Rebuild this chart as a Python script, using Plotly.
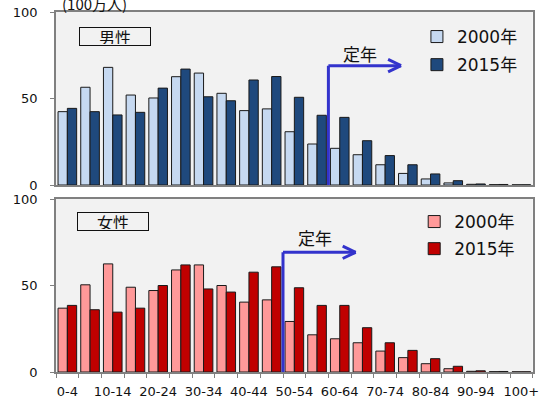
import plotly.graph_objects as go

categories = ["0-4", "5-9", "10-14", "15-19", "20-24", "25-29", "30-34", "35-39",
              "40-44", "45-49", "50-54", "55-59", "60-64", "65-69", "70-74", "75-79",
              "80-84", "85-89", "90-94", "95-99", "100+"]
male_2000 = [42.4, 56.5, 68.0, 52.0, 50.3, 62.6, 64.7, 53.0, 43.0, 44.0, 30.8,
             23.7, 21.2, 17.5, 11.7, 6.7, 3.5, 1.2, 0.4, 0.2, 0.1]
male_2015 = [44.3, 42.4, 40.5, 42.0, 56.0, 67.0, 51.0, 48.7, 60.7, 62.7, 50.7,
             40.3, 39.1, 25.6, 17.0, 11.7, 6.4, 2.5, 0.6, 0.3, 0.1]
female_2000 = [36.9, 50.4, 62.5, 49.0, 47.1, 59.0, 61.9, 50.0, 40.4, 41.7, 29.2,
               21.5, 19.2, 16.9, 12.1, 8.3, 4.8, 1.9, 0.4, 0.2, 0.1]
female_2015 = [38.5, 36.0, 34.6, 36.9, 50.0, 61.9, 48.0, 46.2, 57.7, 60.8, 48.7,
               38.5, 38.5, 25.6, 16.9, 12.5, 7.7, 3.3, 0.7, 0.3, 0.1]
tick_text = [c if i % 2 == 0 else "" for i, c in enumerate(categories)]
series_names = ["2000年", "2015年"]

FONT = "DejaVu Sans, Noto Sans CJK JP"
CJK = "Noto Sans CJK JP, DejaVu Sans"
W, H = 545, 403

fig = go.Figure()
line = dict(color="#1a1a1a", width=1)
fig.add_trace(go.Bar(x=categories, y=male_2000, name=series_names[0], marker=dict(color="#c6d9f1", line=line),
                     xaxis="x", yaxis="y", legend="legend", legendgroup="a"))
fig.add_trace(go.Bar(x=categories, y=male_2015, name=series_names[1], marker=dict(color="#1f497d", line=line),
                     xaxis="x", yaxis="y", legend="legend", legendgroup="b"))
fig.add_trace(go.Bar(x=categories, y=female_2000, name=series_names[0], marker=dict(color="#ff9999", line=line),
                     xaxis="x2", yaxis="y2", legend="legend2", legendgroup="c"))
fig.add_trace(go.Bar(x=categories, y=female_2015, name=series_names[1], marker=dict(color="#c00000", line=line),
                     xaxis="x2", yaxis="y2", legend="legend2", legendgroup="d"))

xd = [56 / W, 532.7 / W]
axcol = "#808080"
common_x = dict(domain=xd, type="category", showline=True, linecolor=axcol, linewidth=1.5,
                mirror=True, showgrid=False, categoryorder="array", categoryarray=categories,
                automargin=False, tickangle=0)
common_y = dict(range=[0, 100], tickvals=[0, 50, 100], showline=True, linecolor=axcol, linewidth=1.5,
                mirror=True, showgrid=False, ticks="outside", ticklen=4, tickcolor=axcol,
                zeroline=False, tickfont=dict(family=FONT, size=13, color="#111"),
                ticklabelstandoff=10, automargin=False)

fig.update_layout(
    width=W, height=H, margin=dict(l=0, r=0, t=0, b=0),
    paper_bgcolor="white", plot_bgcolor="#f2f2f2",
    barmode="group", bargap=0.18, bargroupgap=0,
    font=dict(family=FONT, size=13, color="#111"),
    xaxis=dict(common_x, anchor="y", showticklabels=False, ticks=""),
    yaxis=dict(common_y, domain=[1 - 185 / H, 1 - 12 / H], anchor="x"),
    xaxis2=dict(common_x, anchor="y2", tickvals=categories, ticktext=tick_text,
                ticks="outside", tickson="boundaries", ticklen=4, tickcolor=axcol,
                ticklabelstandoff=7,
                tickfont=dict(family=FONT, size=13, color="#111")),
    yaxis2=dict(common_y, domain=[1 - 372 / H, 1 - 199 / H], anchor="x2"),
    legend=dict(x=0.765, y=1 - 19 / H, xanchor="left", yanchor="top", bgcolor="rgba(0,0,0,0)",
                font=dict(family=FONT, size=17, color="#111"), tracegroupgap=3),
    legend2=dict(x=0.76, y=1 - 204 / H, xanchor="left", yanchor="top", bgcolor="rgba(0,0,0,0)",
                 font=dict(family=FONT, size=17, color="#111"), tracegroupgap=2),
)

arrow_col = "#3333cc"
shapes = []
for xr, yr, x0, y0 in [("x", "y", 11.5, 69.0), ("x2", "y2", 9.5, 69.2)]:
    x1 = x0 + 3.2
    shapes.append(dict(type="line", xref=xr, yref=yr, x0=x0, x1=x0, y0=0, y1=y0,
                       line=dict(color=arrow_col, width=3)))
    shapes.append(dict(type="line", xref=xr, yref=yr, x0=x0, x1=x1, y0=y0, y1=y0,
                       line=dict(color=arrow_col, width=3)))
    shapes.append(dict(type="line", xref=xr, yref=yr, x0=x1 - 0.57, x1=x1, y0=y0 + 3.6, y1=y0,
                       line=dict(color=arrow_col, width=3)))
    shapes.append(dict(type="line", xref=xr, yref=yr, x0=x1 - 0.57, x1=x1, y0=y0 - 3.6, y1=y0,
                       line=dict(color=arrow_col, width=3)))
fig.update_layout(shapes=shapes)

ann = []
ann.append(dict(text="定年", xref="x", yref="y", x=12.9, y=76, showarrow=False,
                font=dict(family=CJK, size=17, color="#111")))
ann.append(dict(text="定年", xref="x2", yref="y2", x=10.9, y=77.5, showarrow=False,
                font=dict(family=CJK, size=17, color="#111")))
ann.append(dict(text="男性", xref="paper", yref="paper", x=115 / W, y=1 - 36.2 / H, showarrow=False,
                xanchor="center", yanchor="middle",
                width=68, height=15, borderwidth=1, bordercolor="#111", borderpad=1,
                font=dict(family=CJK, size=16, color="#111")))
ann.append(dict(text="女性", xref="paper", yref="paper", x=113.3 / W, y=1 - 221.7 / H, showarrow=False,
                xanchor="center", yanchor="middle",
                width=68, height=15, borderwidth=1, bordercolor="#111", borderpad=1,
                font=dict(family=CJK, size=16, color="#111")))
ann.append(dict(text="(100万人)", xref="paper", yref="paper", x=60 / W, y=1 - 4 / H, showarrow=False,
                xanchor="left", yanchor="middle", font=dict(family=CJK, size=15, color="#111")))
fig.update_layout(annotations=ann)

fig.write_html("out.html")
